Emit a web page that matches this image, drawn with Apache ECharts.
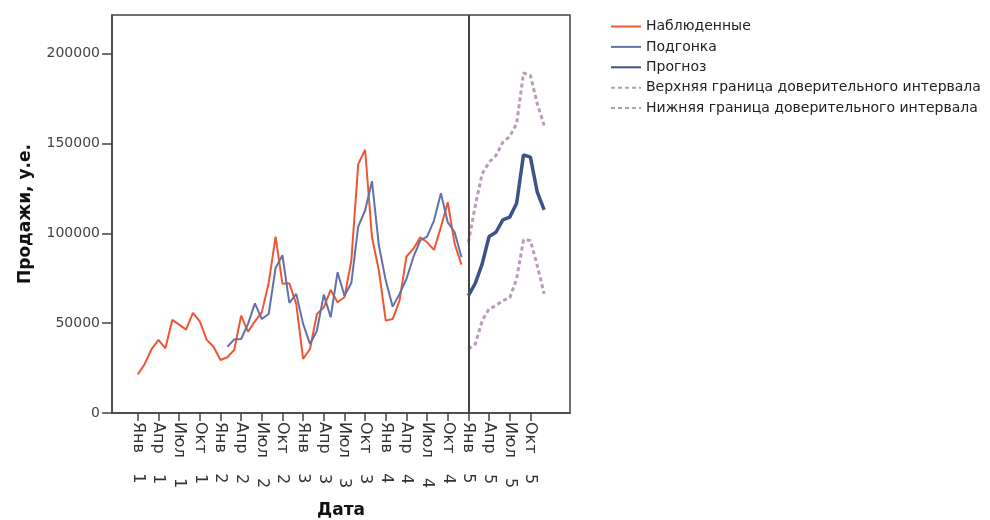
<!DOCTYPE html>
<html>
<head>
<meta charset="utf-8">
<script src="https://cdn.jsdelivr.net/npm/echarts@6/dist/echarts.min.js"></script>
<style>
  html, body { margin: 0; padding: 0; background: #fff; }
  #chart { width: 990px; height: 520px; }
</style>
</head>
<body>
<div id="chart"></div>
<script>
// месяцы считаем от Янв года 1 (0) до Дек года 5 (59)
const tickMonths = [0, 3, 6, 9, 12, 15, 18, 21, 24, 27, 30, 33, 36, 39, 42, 45, 48, 51, 54, 57];
const quarterNames = ['Янв', 'Апр', 'Июл', 'Окт'];
const yTicks = [0, 50000, 100000, 150000, 200000];

// Наблюденные: месяцы 0..47
const observedStart = 0;
const observed = [21500, 27300, 35600, 40700, 36000, 51800, 49200, 46400, 55700, 51000, 40700, 36900,
  29500, 31000, 35100, 54200, 45300, 51000, 56000, 72300, 98200, 72000, 72200, 60700,
  30100, 35600, 55100, 58800, 68500, 61600, 64400, 84800, 138500, 146500, 97800, 79300,
  51400, 52300, 62500, 87100, 91300, 97800, 95000, 90800, 103400, 117300, 94100, 82600];

// Подгонка: месяцы 13..47
const fitStart = 13;
const fitted = [36900, 41000, 41200, 49600, 61000, 52300, 55100, 80700, 87800, 61300, 66300,
  49600, 38400, 45800, 65900, 53300, 78300, 65300, 72300, 103800, 112700, 129000, 93200,
  73700, 59200, 66300, 74600, 86700, 96000, 98200, 107100, 122300, 106200, 100600, 86700];

// Прогноз и границы: месяцы 48..59
const forecastStart = 48;
const forecast = [65300, 72200, 83000, 98200, 100600, 107500, 109000, 116700, 143700, 142400, 122900, 113100];
const upperBound = [95000, 115500, 133100, 139600, 143300, 150700, 153900, 161000, 189200, 187900, 172100, 160000];
const lowerBound = [35600, 38400, 51400, 57900, 59800, 62600, 64100, 74600, 96400, 96000, 82000, 66300];

const toPoints = (start, vals) => vals.map((v, i) => [start + i, v]);

const FONT = 'DejaVu Sans';

let chart = echarts.init(document.getElementById('chart'), null, { renderer: 'canvas' });

let option = {
  backgroundColor: '#fff',
  animation: false,
  textStyle: { fontFamily: FONT },
  grid: {
    left: 112, right: 420, top: 15, bottom: 107,
    outerBoundsMode: 'none',
    containLabel: false,
    show: true,
    borderColor: '#444',
    borderWidth: 1.5,
    backgroundColor: 'transparent'
  },
  legend: {
    orient: 'vertical',
    left: 610,
    top: 19.5,
    padding: 0,
    itemWidth: 30,
    itemHeight: 14,
    itemGap: 6.4,
    itemStyle: { opacity: 0 },
    textStyle: { fontFamily: FONT, fontSize: 14, color: '#222' },
    data: ['Наблюденные', 'Подгонка', 'Прогноз',
      'Верхняя граница доверительного интервала', 'Нижняя граница доверительного интервала']
  },
  xAxis: {
    type: 'value',
    min: -3.75,
    max: 62.75,
    name: 'Дата',
    nameLocation: 'middle',
    nameGap: 89,
    nameTextStyle: { fontFamily: FONT, fontSize: 17, fontWeight: 'bold', color: '#111' },
    axisLine: { show: true, onZero: false, lineStyle: { color: '#444', width: 1.5 } },
    axisTick: { show: true, length: 8, customValues: tickMonths, lineStyle: { color: '#444', width: 1.5 } },
    splitLine: { show: false },
    axisLabel: {
      customValues: tickMonths,
      rotate: -90,
      margin: 9,
      fontSize: 16,
      color: '#333',
      formatter: (v) => quarterNames[(v % 12) / 3] + '    ' + (Math.floor(v / 12) + 1)
    }
  },
  yAxis: {
    type: 'value',
    min: 0,
    max: 221500,
    name: 'Продажи, у.е.',
    nameLocation: 'middle',
    nameGap: 78,
    nameTextStyle: { fontFamily: FONT, fontSize: 17, fontWeight: 'bold', color: '#111' },
    axisLine: { show: true, onZero: false, lineStyle: { color: '#444', width: 1.5 } },
    axisTick: { show: true, length: 10, customValues: yTicks, lineStyle: { color: '#444', width: 1.5 } },
    splitLine: { show: false },
    axisLabel: {
      customValues: yTicks,
      margin: 12,
      fontSize: 14,
      color: '#444',
      formatter: (v) => String(v)
    }
  },
  series: [
    {
      name: 'Наблюденные',
      type: 'line',
      data: toPoints(observedStart, observed),
      symbol: 'none',
      color: '#EF5634',
      lineStyle: { width: 2 },
      z: 3,
      markLine: {
        silent: true,
        symbol: 'none',
        label: { show: false },
        lineStyle: { color: '#444', width: 2, type: 'solid' },
        data: [{ xAxis: forecastStart }]
      }
    },
    {
      name: 'Подгонка',
      type: 'line',
      data: toPoints(fitStart, fitted),
      symbol: 'none',
      color: '#6272A8',
      lineStyle: { width: 2 },
      z: 4
    },
    {
      name: 'Прогноз',
      type: 'line',
      data: toPoints(forecastStart, forecast),
      symbol: 'none',
      color: '#3E5189',
      lineStyle: { width: 3.5 },
      z: 5
    },
    {
      name: 'Верхняя граница доверительного интервала',
      type: 'line',
      data: toPoints(forecastStart, upperBound),
      symbol: 'none',
      color: '#B79CB8',
      lineStyle: { width: 3, type: [4, 3] },
      z: 2
    },
    {
      name: 'Нижняя граница доверительного интервала',
      type: 'line',
      data: toPoints(forecastStart, lowerBound),
      symbol: 'none',
      color: '#B79CB8',
      lineStyle: { width: 3, type: [4, 3] },
      z: 2
    }
  ]
};

if (option && typeof option === 'object') {
  chart.setOption(option);
}
</script>
</body>
</html>
